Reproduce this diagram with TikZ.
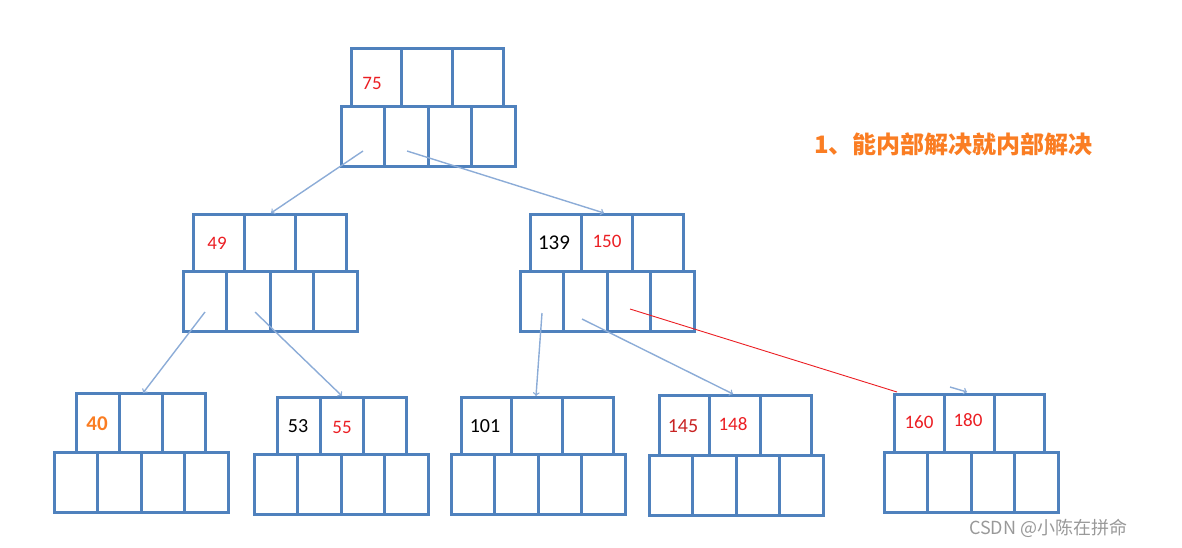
\documentclass[tikz,border=0pt]{standalone}
\usepackage{fontspec}
\setmainfont{Carlito}
\newfontfamily\cjk{Noto Sans CJK SC}
\usetikzlibrary{calc}
\definecolor{boxblue}{RGB}{79,129,189}
\definecolor{arrowblue}{RGB}{140,172,215}
\definecolor{keyred}{RGB}{235,30,35}
\definecolor{darkred}{RGB}{200,35,35}
\definecolor{keyorange}{RGB}{250,125,35}

\begin{document}
\begin{tikzpicture}[x=1pt, y=-1pt,
	cell/.style = {draw=boxblue, line width=3pt},
	ptr/.style = {draw=arrowblue, line width=1.4pt, ->},
	link/.style = {draw=keyred, line width=0.9pt},
	key/.style = {font=\fontsize{19}{19}\selectfont, inner sep=0pt}]
		\def\pw{43.6};
		\def\ph{60};
		
		\useasboundingbox (0,0) rectangle (1182,547);
		
		% name / key x / key y / key width / pointer x / pointer y
		\foreach \nm/\kx/\ky/\kw/\px/\py in {root/351/48/50.7/341/106, L/193/214/51/183/271, R/530/214/51/520/271, leaf1/76/393/43.3/54/452, leaf2/277/397/43/254/454, leaf3/461/397/50.7/451/454, leaf4/659/395/50.7/649/455, leaf5/894/394/50.3/884/452} {
			\foreach \i in {0,1,2}
				\draw [cell] ({\kx+\i*\kw},\ky) rectangle ++(\kw,{\py-\ky});
			\foreach \i in {0,...,3}
				\draw [cell] ({\px+\i*\pw},\py) rectangle ++(\pw,\ph);
			\coordinate (\nm) at (\kx,\ky);
		}
		
		\node [key, text=keyred] (root k0) at ($ (root) + (21,35) $) {75};
		\node [key, text=keyred] (L k0) at ($ (L) + (24,29) $) {49};
		\node [key, font=\fontsize{21}{21}\selectfont] (R k0) at ($ (R) + (24,29) $) {139};
		\node [key, text=keyred] (R k1) at ($ (R) + (77,27) $) {150};
		\node [key, text=keyorange, font=\fontsize{21}{21}\selectfont\bfseries] (leaf1 k0) at ($ (leaf1) + (21,31) $) {40};
		\node [key, font=\fontsize{20}{20}\selectfont] (leaf2 k0) at ($ (leaf2) + (21,29) $) {53};
		\node [key, text=keyred] (leaf2 k1) at ($ (leaf2) + (65,30) $) {55};
		\node [key, font=\fontsize{20}{20}\selectfont] (leaf3 k0) at ($ (leaf3) + (24,29) $) {101};
		\node [key, text=darkred, font=\fontsize{20}{20}\selectfont] (leaf4 k0) at ($ (leaf4) + (24,31) $) {145};
		\node [key, text=keyred] (leaf4 k1) at ($ (leaf4) + (74,29) $) {148};
		\node [key, text=keyred] (leaf5 k0) at ($ (leaf5) + (25,28) $) {160};
		\node [key, text=keyred] (leaf5 k1) at ($ (leaf5) + (74,26) $) {180};
		
		\coordinate (root p0) at (363,151);
		\coordinate (root p1) at (407,151);
		\coordinate (L p0) at (205,312);
		\coordinate (L p1) at (255,312);
		\coordinate (R p0) at (542,313);
		\coordinate (R p1) at (582,319);
		\coordinate (R p2) at (630,309);
		\coordinate (L in) at (271,213);
		\coordinate (R in) at (604,213);
		\coordinate (leaf1 in) at (143,393);
		\coordinate (leaf2 in) at (342,396);
		\coordinate (leaf3 in) at (536,396);
		\coordinate (leaf4 in) at (733,394);
		\coordinate (leaf5 corner) at (897,392);
		\coordinate (leaf5 stub) at (950,387);
		\coordinate (leaf5 in) at (967,392);
		
		\draw [ptr] (root p0) -- (L in);
		\draw [ptr] (root p1) -- (R in);
		\draw [ptr] (L p0) -- (leaf1 in);
		\draw [ptr] (L p1) -- (leaf2 in);
		\draw [ptr] (R p0) -- (leaf3 in);
		\draw [ptr] (R p1) -- (leaf4 in);
		\draw [link] (R p2) -- (leaf5 corner);
		\draw [ptr] (leaf5 stub) -- (leaf5 in);
		
		\node [anchor=west, inner sep=0pt, text=keyorange, font=\cjk\bfseries\fontsize{24}{24}\selectfont] (rule) at (814,144) {1、能内部解决就内部解决};
		\node [anchor=west, inner sep=0pt, text=black!40, font=\cjk\fontsize{18}{18}\selectfont] (mark) at (969,528) {CSDN @小陈在拼命};
	\end{tikzpicture}
\end{document}
